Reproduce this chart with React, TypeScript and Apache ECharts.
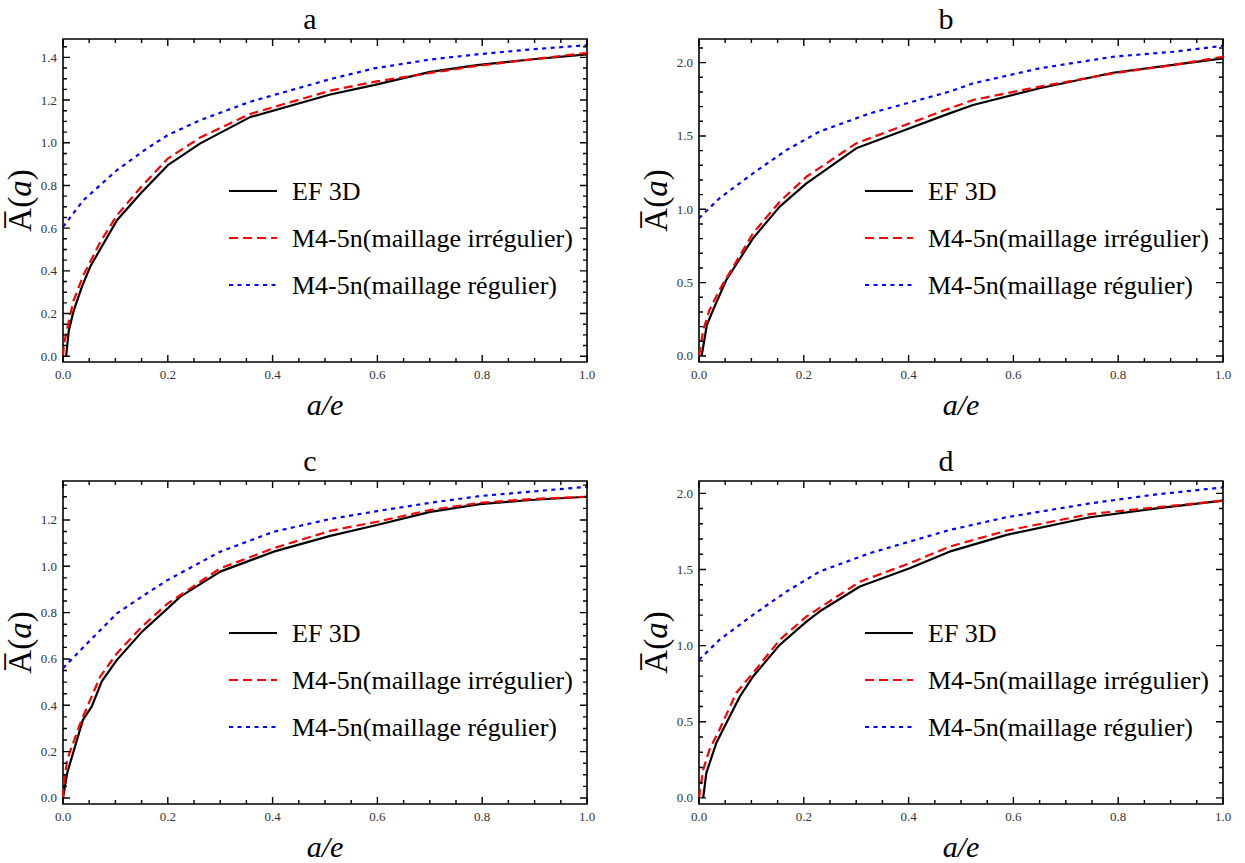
import React, { useEffect, useRef } from "react";
import * as echarts from "echarts";

// ---------- data ----------
const SERIES_NAMES = ["EF 3D", "M4-5n(maillage irrégulier)", "M4-5n(maillage régulier)"];
const PANEL_TITLES = ["a", "b", "c", "d"];

const X_MAJOR = [0, 0.2, 0.4, 0.6, 0.8, 1.0];
const Y_MAJOR_SMALL = [0, 0.2, 0.4, 0.6, 0.8, 1.0, 1.2, 1.4];
const Y_MAJOR_C = [0, 0.2, 0.4, 0.6, 0.8, 1.0, 1.2];
const Y_MAJOR_BIG = [0, 0.5, 1.0, 1.5, 2.0];

// panel a
const aEfX = [0.006, 0.011, 0.02, 0.036, 0.052, 0.103, 0.148, 0.2, 0.262, 0.357, 0.51, 0.593, 0.701, 0.79, 0.892, 1.0];
const aEfY = [0, 0.12, 0.21, 0.325, 0.42, 0.637, 0.762, 0.895, 0.997, 1.12, 1.226, 1.27, 1.332, 1.364, 1.39, 1.414];
const aIrrX = [0, 0.002, 0.0115, 0.02, 0.039, 0.071, 0.103, 0.148, 0.2, 0.262, 0.357, 0.51, 0.593, 0.701, 0.79, 0.892, 1.0];
const aIrrY = [0, 0.06, 0.17, 0.26, 0.38, 0.535, 0.66, 0.79, 0.926, 1.025, 1.135, 1.244, 1.285, 1.327, 1.36, 1.39, 1.421];
const aRegX = [0, 0.039, 0.103, 0.16, 0.2, 0.262, 0.357, 0.51, 0.593, 0.701, 0.79, 0.892, 1.0];
const aRegY = [0.606, 0.731, 0.872, 0.973, 1.036, 1.106, 1.192, 1.298, 1.348, 1.39, 1.414, 1.437, 1.457];

// panel b
const bEfX = [0.005, 0.015, 0.027, 0.052, 0.103, 0.154, 0.205, 0.3, 0.402, 0.478, 0.523, 0.65, 0.79, 0.905, 1.0];
const bEfY = [0, 0.211, 0.314, 0.518, 0.802, 1.018, 1.177, 1.416, 1.552, 1.654, 1.711, 1.825, 1.931, 1.984, 2.029];
const bIrrX = [0, 0.002, 0.008, 0.02, 0.039, 0.103, 0.154, 0.205, 0.3, 0.402, 0.478, 0.523, 0.65, 0.79, 0.905, 1.0];
const bIrrY = [0, 0.04, 0.177, 0.314, 0.45, 0.836, 1.052, 1.222, 1.45, 1.586, 1.688, 1.745, 1.836, 1.927, 1.984, 2.04];
const bRegX = [0, 0.039, 0.103, 0.167, 0.23, 0.326, 0.478, 0.523, 0.65, 0.79, 0.905, 1.0];
const bRegY = [0.939, 1.075, 1.245, 1.404, 1.53, 1.654, 1.802, 1.859, 1.961, 2.04, 2.074, 2.115];

// panel c
const cEfX = [0, 0.008, 0.038, 0.055, 0.074, 0.103, 0.151, 0.2, 0.224, 0.3, 0.402, 0.51, 0.599, 0.701, 0.796, 0.892, 1.0];
const cEfY = [0, 0.108, 0.337, 0.395, 0.503, 0.596, 0.718, 0.819, 0.869, 0.977, 1.063, 1.131, 1.178, 1.235, 1.268, 1.286, 1.3];
const cIrrX = [0, 0.001, 0.008, 0.033, 0.071, 0.103, 0.151, 0.2, 0.3, 0.402, 0.51, 0.599, 0.701, 0.796, 0.892, 1.0];
const cIrrY = [0, 0.05, 0.165, 0.323, 0.524, 0.625, 0.74, 0.84, 0.991, 1.078, 1.153, 1.192, 1.243, 1.274, 1.29, 1.3];
const cRegX = [0, 0.04, 0.103, 0.16, 0.2, 0.3, 0.402, 0.51, 0.599, 0.701, 0.796, 0.892, 1.0];
const cRegY = [0.56, 0.653, 0.797, 0.883, 0.941, 1.063, 1.149, 1.204, 1.238, 1.274, 1.303, 1.322, 1.343];

// panel d
const dEfX = [0.008, 0.014, 0.033, 0.052, 0.078, 0.103, 0.154, 0.205, 0.23, 0.307, 0.402, 0.478, 0.587, 0.746, 0.873, 1.0];
const dEfY = [0, 0.164, 0.36, 0.49, 0.666, 0.797, 1.005, 1.158, 1.224, 1.388, 1.508, 1.617, 1.727, 1.843, 1.901, 1.952];
const dIrrX = [0, 0.002, 0.008, 0.02, 0.039, 0.071, 0.103, 0.154, 0.205, 0.307, 0.402, 0.478, 0.587, 0.746, 0.873, 1.0];
const dIrrY = [0, 0.05, 0.186, 0.317, 0.448, 0.689, 0.82, 1.038, 1.191, 1.42, 1.541, 1.65, 1.755, 1.864, 1.908, 1.952];
const dRegX = [0, 0.039, 0.103, 0.167, 0.23, 0.326, 0.478, 0.587, 0.746, 0.873, 1.0];
const dRegY = [0.907, 1.038, 1.202, 1.355, 1.486, 1.607, 1.759, 1.843, 1.934, 1.993, 2.039];

// ---------- layout / style ----------
const SERIF = "serif";
const TITLE_FONT = "Liberation Serif";
const GRID_POS = [
  { left: 63, top: 39 },
  { left: 699, top: 39 },
  { left: 63, top: 481 },
  { left: 699, top: 481 },
];
const GRID_W = 524;
const GRID_H = 323;

const PANELS = [
  { yMin: -0.027, yMax: 1.486, yMajor: Y_MAJOR_SMALL, yMinorStep: 0.05, xs: [aEfX, aIrrX, aRegX], ys: [aEfY, aIrrY, aRegY] },
  { yMin: -0.041, yMax: 2.161, yMajor: Y_MAJOR_BIG, yMinorStep: 0.1, xs: [bEfX, bIrrX, bRegX], ys: [bEfY, bIrrY, bRegY] },
  { yMin: -0.026, yMax: 1.368, yMajor: Y_MAJOR_C, yMinorStep: 0.05, xs: [cEfX, cIrrX, cRegX], ys: [cEfY, cIrrY, cRegY] },
  { yMin: -0.04, yMax: 2.081, yMajor: Y_MAJOR_BIG, yMinorStep: 0.1, xs: [dEfX, dIrrX, dRegX], ys: [dEfY, dIrrY, dRegY] },
];

const SERIES_STYLES = [
  { color: "#000000", width: 2.2, type: "solid" as any },
  { color: "#ff0000", width: 2.2, type: [9, 5] as any },
  { color: "#0000ff", width: 2.2, type: [4, 4.5] as any },
];

const MAJOR_LEN = 7; // px
const MINOR_LEN = 4; // px

function minorTicks(min: number, max: number, step: number, majors: number[]) {
  const out: number[] = [];
  const start = Math.ceil(min / step - 1e-9);
  for (let i = start; i * step <= max + 1e-9; i++) {
    const v = Math.round(i * step * 1000) / 1000;
    if (!majors.some((m) => Math.abs(m - v) < 1e-6)) out.push(v);
  }
  return out;
}

function zip(xs: number[], ys: number[]) {
  return xs.map((x, i) => [x, ys[i]]);
}

const baseText = { fontFamily: SERIF, fontStyle: "normal", fontWeight: "normal" };

function buildOption() {
  const xAxis: any[] = [];
  const yAxis: any[] = [];
  const series: any[] = [];
  const legend: any[] = [];
  const title: any[] = [];
  const grid: any[] = [];

  const xMinor = minorTicks(0, 1, 0.05, X_MAJOR);

  PANELS.forEach((p, g) => {
    grid.push({
      left: GRID_POS[g].left,
      top: GRID_POS[g].top,
      width: GRID_W,
      height: GRID_H,
      containLabel: false,
      show: true,
      borderColor: "#000",
      borderWidth: 1.6,
      backgroundColor: "rgba(0,0,0,0)",
    });

    xAxis.push({
      type: "value",
      gridIndex: g,
      min: 0,
      max: 1,
      position: "bottom",
      splitLine: { show: false },
      axisLine: { show: false, onZero: false },
      axisTick: { show: false },
      axisLabel: {
        ...baseText,
        customValues: X_MAJOR,
        formatter: (v: number) => v.toFixed(1),
        fontSize: 13,
        color: "#333",
        margin: 6,
      },
      name: "a/e",
      nameLocation: "middle",
      nameGap: 27,
      nameTextStyle: { ...baseText, fontStyle: "italic", fontSize: 30, color: "#000" },
    });

    yAxis.push({
      type: "value",
      gridIndex: g,
      min: p.yMin,
      max: p.yMax,
      position: "left",
      splitLine: { show: false },
      axisLine: { show: false, onZero: false },
      axisTick: { show: false },
      axisLabel: {
        ...baseText,
        customValues: p.yMajor,
        formatter: (v: number) => v.toFixed(1),
        fontSize: 13,
        color: "#333",
        margin: 6,
      },
      name: "{n|A\u0305(}{i|a}{n|)}",
      nameLocation: "middle",
      nameRotate: 90,
      nameGap: 6,
      nameTextStyle: {
        ...baseText,
        rich: {
          n: { ...baseText, fontSize: 33, color: "#000" },
          i: { ...baseText, fontStyle: "italic", fontSize: 33, color: "#000" },
        },
      },
    });

    SERIES_NAMES.forEach((name, s) => {
      series.push({
        type: "line",
        name,
        xAxisIndex: g,
        yAxisIndex: g,
        data: zip(p.xs[s], p.ys[s]),
        showSymbol: false,
        symbol: "none",
        clip: true,
        lineStyle: { color: SERIES_STYLES[s].color, width: SERIES_STYLES[s].width, type: SERIES_STYLES[s].type },
        itemStyle: { color: SERIES_STYLES[s].color },
        z: 2 + s,
      });
    });

    // inward frame ticks on all four sides, as short segments in data space
    const yMinor = minorTicks(p.yMin, p.yMax, p.yMinorStep, p.yMajor);
    const yPerPx = (p.yMax - p.yMin) / GRID_H;
    const xPerPx = 1 / GRID_W;
    const gap = ["-", "-"];
    const tickSeg: any[] = [];
    const addX = (v: number, len: number) => {
      tickSeg.push([v, p.yMin], [v, p.yMin + len * yPerPx], gap);
      tickSeg.push([v, p.yMax], [v, p.yMax - len * yPerPx], gap);
    };
    const addY = (v: number, len: number) => {
      tickSeg.push([0, v], [len * xPerPx, v], gap);
      tickSeg.push([1, v], [1 - len * xPerPx, v], gap);
    };
    X_MAJOR.forEach((v) => addX(v, MAJOR_LEN));
    xMinor.forEach((v) => addX(v, MINOR_LEN));
    p.yMajor.forEach((v) => addY(v, MAJOR_LEN));
    yMinor.forEach((v) => addY(v, MINOR_LEN));

    series.push({
      type: "line",
      name: "frame-ticks-" + g,
      xAxisIndex: g,
      yAxisIndex: g,
      data: tickSeg,
      connectNulls: false,
      showSymbol: false,
      symbol: "none",
      silent: true,
      clip: false,
      lineStyle: { color: "#000", width: 1.4, type: "solid" },
      z: 6,
    });

    legend.push({
      data: SERIES_NAMES,
      orient: "vertical",
      left: GRID_POS[g].left + 165,
      top: GRID_POS[g].top + 139,
      padding: 0,
      itemWidth: 48,
      itemHeight: 12,
      itemGap: 21,
      selectedMode: false,
      itemStyle: { opacity: 0 },
      textStyle: { ...baseText, fontSize: 26, color: "#000", lineHeight: 26, padding: [0, 0, 0, 10] },
    });

    title.push({
      text: PANEL_TITLES[g],
      left: GRID_POS[g].left + 247,
      top: GRID_POS[g].top - 36,
      textAlign: "center",
      padding: 0,
      textStyle: { fontFamily: TITLE_FONT, fontWeight: "normal", fontSize: 30, color: "#000" },
    });
  });

  return {
    animation: false,
    backgroundColor: "#ffffff",
    textStyle: { ...baseText },
    title,
    legend,
    grid,
    xAxis,
    yAxis,
    series,
  };
}

export default function App() {
  const ref = useRef<HTMLDivElement>(null);
  useEffect(() => {
    if (!ref.current) return;
    const chart = echarts.init(ref.current, undefined, { renderer: "svg" });
    chart.setOption(buildOption() as any);
    return () => chart.dispose();
  }, []);
  return (
    <div
      ref={ref}
      style={{ position: "fixed", left: 0, top: 0, width: 1245, height: 863, background: "#fff" }}
    />
  );
}
